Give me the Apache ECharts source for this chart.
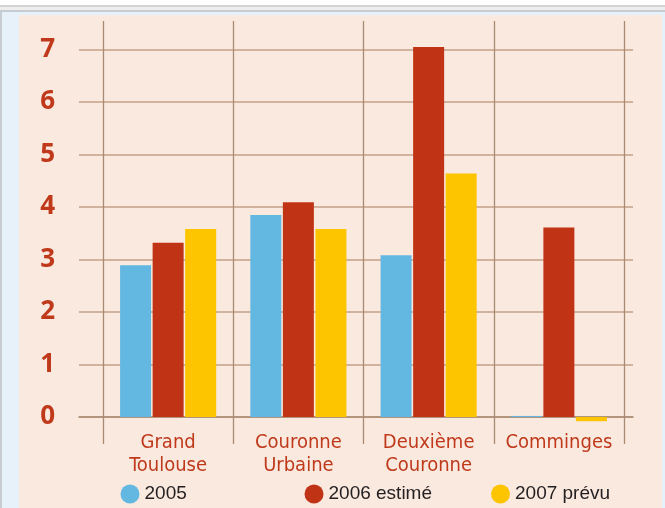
<!DOCTYPE html>
<html>
<head>
<meta charset="utf-8">
<script src="https://cdn.jsdelivr.net/npm/echarts@6/dist/echarts.min.js"></script>
<style>
html,body{margin:0;padding:0;background:#f9e9df;}
#chart{width:665px;height:508px;}
</style>
</head>
<body>
<div id="chart"></div>
<script>
// ---- data ----
var categories = ['Grand\nToulouse', 'Couronne\nUrbaine', 'Deuxième\nCouronne', 'Comminges'];
var seriesNames = ['2005', '2006 estimé', '2007 prévu'];
var values2005 = [2.89, 3.85, 3.08, 0.02];
var values2006 = [3.32, 4.09, 7.05, 3.61];
var values2007 = [3.58, 3.58, 4.64, -0.08];
var yTicks = [0, 7, 1]; // min, max, interval

// ---- layout ----
var W = 665, H = 508;
var zeroY = 417, pxPerUnit = 52.5;
var barTop = 21, barBottom = 444;
var red = '#c0391b';
var colors = ['#63b8e2', '#c03415', '#fdc400'];

var chart = echarts.init(document.getElementById('chart'), null, {renderer: 'canvas'});

function legend(idx, left) {
  return {
    data: [seriesNames[idx]],
    left: left, top: 484.5,
    padding: 0,
    icon: 'circle',
    itemWidth: 19, itemHeight: 19,
    selectedMode: false,
    textStyle: {fontFamily: 'Liberation Sans, Arial, sans-serif', fontSize: 19, color: '#231f20'}
  };
}

var option = {
  animation: false,
  backgroundColor: '#f9e9df',
  graphic: [
    {type: 'rect', shape: {x: 0, y: 0, width: W, height: 15}, style: {fill: '#ffffff'}, silent: true},
    {type: 'rect', shape: {x: 0, y: 5, width: W, height: 2}, style: {fill: '#d2d2d2'}, silent: true},
    {type: 'rect', shape: {x: 0, y: 7, width: W, height: 3}, style: {fill: '#eeeeee'}, silent: true},
    {type: 'rect', shape: {x: 0, y: 10, width: W, height: 2}, style: {fill: '#c6ccd2'}, silent: true},
    {type: 'rect', shape: {x: 0, y: 12, width: W, height: 3}, style: {fill: '#e6f1fa'}, silent: true},
    {type: 'rect', shape: {x: 0, y: 12, width: 19, height: H - 12}, style: {fill: '#e6f1fa'}, silent: true},
    {type: 'rect', shape: {x: 0, y: 12, width: 2, height: H - 12}, style: {fill: '#c6ccd2'}, silent: true},
    {type: 'rect', shape: {x: 662, y: 12, width: 3, height: H - 12}, style: {fill: '#e6f1fa'}, silent: true}
  ],
  legend: [legend(0, 120.5), legend(1, 304.5), legend(2, 491)],
  grid: [
    {left: 103, right: W - 624, top: barTop, bottom: H - barBottom},
    {left: 79, right: W - 633, top: zeroY - yTicks[1] * pxPerUnit, bottom: H - zeroY}
  ],
  xAxis: [
    {
      type: 'category', gridIndex: 0, data: categories,
      axisLine: {show: false}, axisTick: {show: false},
      splitLine: {show: true, lineStyle: {color: '#a98b73', width: 1.3}},
      axisLabel: {
        margin: -13, color: red, fontSize: 20, lineHeight: 23,
        fontFamily: 'Liberation Sans Narrow, DejaVu Sans Condensed, Arial Narrow, Liberation Sans, sans-serif',
        interval: 0
      }
    },
    {
      type: 'category', gridIndex: 1, data: [''],
      axisLine: {show: true, lineStyle: {color: '#a98b73', width: 1.5}},
      axisTick: {show: false}, axisLabel: {show: false}, splitLine: {show: false}
    }
  ],
  yAxis: [
    {
      type: 'value', gridIndex: 0, show: false,
      min: -(barBottom - zeroY) / pxPerUnit,
      max: (zeroY - barTop) / pxPerUnit,
      splitLine: {show: false}
    },
    {
      type: 'value', gridIndex: 1, min: yTicks[0], max: yTicks[1], interval: yTicks[2],
      axisLine: {show: false}, axisTick: {show: false},
      splitLine: {show: true, lineStyle: {color: '#d0b29d', width: 2}},
      axisLabel: {
        margin: 24, color: red, fontSize: 26, fontWeight: 'bold',
        fontFamily: 'Open Sans, Noto Sans, sans-serif'
      }
    }
  ],
  series: [
    {name: seriesNames[0], type: 'bar', xAxisIndex: 0, yAxisIndex: 0, data: values2005,
     barWidth: 31, barGap: '5%', itemStyle: {color: colors[0]}},
    {name: seriesNames[1], type: 'bar', xAxisIndex: 0, yAxisIndex: 0, data: values2006,
     barWidth: 31, barGap: '5%', itemStyle: {color: colors[1]}},
    {name: seriesNames[2], type: 'bar', xAxisIndex: 0, yAxisIndex: 0, data: values2007,
     barWidth: 31, barGap: '5%', itemStyle: {color: colors[2]}}
  ]
};
chart.setOption(option);
</script>
</body>
</html>
